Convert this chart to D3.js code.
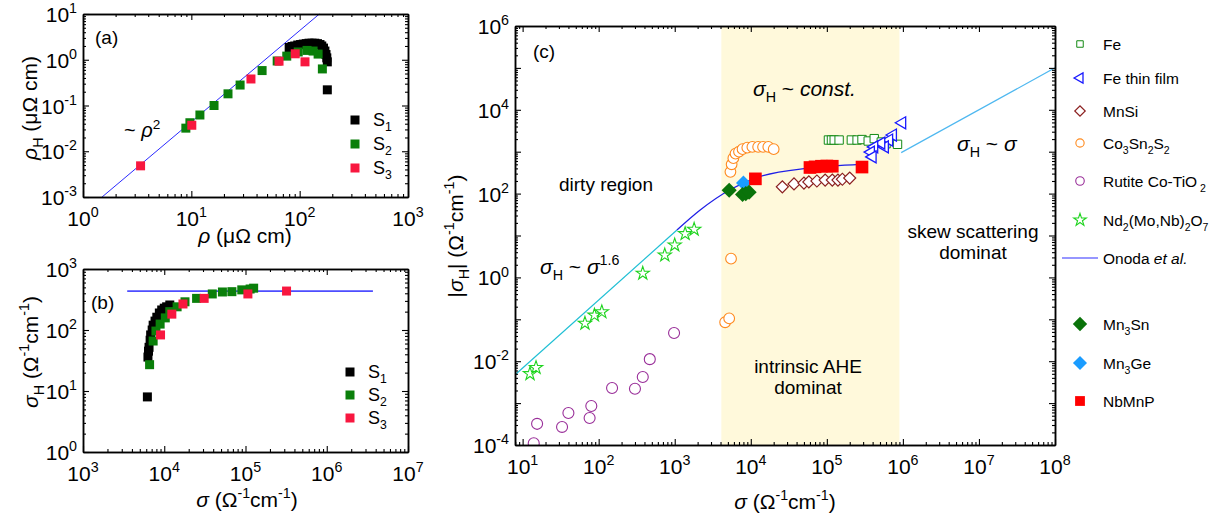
<!DOCTYPE html>
<html>
<head>
<meta charset="utf-8">
<script src="https://cdnjs.cloudflare.com/ajax/libs/d3/7.8.5/d3.min.js"></script>
<style>
  body { margin: 0; background: #fff; }
  svg { font-family: "Liberation Sans", Arial, sans-serif; }
</style>
</head>
<body>
<div id="chart"></div>
<script>
// ---------- data ----------
// panel (a): rho (uOhm cm) vs rho_H (uOhm cm)
const aS1 = [[80,1.85],[85,1.95],[90,2.0],[96,2.1],[102,2.15],[108,2.2],[115,2.25],[122,2.3],[130,2.3],[138,2.3],
             [146,2.25],[154,2.15],[160,2.0],[166,1.8],[171,1.55],[175,1.3],[178,1.1],[180,0.9],[180,0.22]];
const aS2 = [[8.9,0.032],[9.7,0.042],[12,0.062],[16.2,0.10],[21.8,0.18],[28.2,0.28],[45,0.58],[62,0.94],
             [76,1.2],[97,1.48],[117,1.6],[133,1.55],[148,1.33],[162,0.63]];
const aS3 = [[3.4,0.0048],[10.1,0.037],[35.5,0.38],[64.5,0.93],[91,1.35],[112,0.9]];
const aFit = [[1.5,0.001],[152,10]];

// panel (b): sigma vs sigma_H
const bS1 = [[6200,8],[6300,36],[6400,45],[6500,52],[6700,68],[6800,83],[7100,100],[7300,120],[7700,140],
             [8100,162],[8700,190],[9300,213],[10000,228],[10700,240],[11700,257]];
const bS2 = [[6600,27],[7300,66],[7900,96],[8900,125],[10300,158],[11700,200],[14400,240],[18000,290],
             [25000,330],[39000,390],[52000,420],[68000,425],[90000,455],[114000,470],[126000,485]];
const bS3 = [[9000,83],[12400,182],[17000,267],[31000,330],[107000,390],[320000,435]];
const bConst = [[3500,435],[3.7e6,435]];

// panel (c): sigma vs |sigma_H|
const fe = [[1.05e5,1900],[1.15e5,1900],[1.25e5,1900],[1.45e5,1900],[2.1e5,1900],[2.5e5,1900],[2.9e5,1950],
            [3.5e5,1800],[4.2e5,2050],[5.2e5,1700],[6.0e5,1550],[8.5e5,1500]];
const feFilm = [[9.8e5,4900],[7.4e5,2500],[6.6e5,1900],[5.8e5,1300],[5.2e5,1600],[4.2e5,1300],[3.8e5,980],[4.0e5,750]];
const mnsi = [[2.6e4,145],[3.7e4,170],[5.0e4,178],[5.8e4,190],[7.4e4,200],[9.5e4,210],[1.18e5,210],[1.4e5,210],
              [1.6e5,220],[2.0e5,235]];
const coSnS = [[4600,0.085],[5200,0.105],[5500,2.8],[5400,330],[5600,500],[5900,700],[6300,900],[7000,1000],
               [7800,1150],[9000,1250],[10500,1300],[12500,1300],[14500,1300],[17000,1300],[20000,1150]];
const rutile = [[14,1.1e-4],[15.5,3.2e-4],[33,2.7e-4],[40,5.8e-4],[76,4.4e-4],[80,8.5e-4],[150,2.3e-3],
                [300,2.2e-3],[380,4.2e-3],[470,0.0112],[980,0.047]];
const ndMoNb = [[12.5,0.0050],[15,0.0070],[66,0.080],[88,0.125],[110,0.150],[380,1.25],[740,3.4],[1000,5.9],
                [1370,11],[1800,14]];
const mn3sn = [[5200,120],[7800,95],[8600,100],[9500,108]];
const mn3ge = [[8000,180]];
const nbmnp = [[11500,225],[60000,420],[70000,435],[85000,450],[100000,455],[118000,450],[290000,430]];
const onoda = [[1070,13.5],[2140,40],[5400,125],[11500,235],[60000,410],[280000,500]];
const lowScaling = [[7.9,0.0047],[1070,13.5]];
const highScaling = [[9.5e5,950],[1e8,1e5]];
const intrinsicBand = [4.1e3, 9.0e5];

// tick values
const aXTicks = [1, 10, 100, 1000];
const aYTicks = [1e-3, 1e-2, 1e-1, 1, 10];
const bXTicks = [1e3, 1e4, 1e5, 1e6, 1e7];
const bYTicks = [1, 10, 100, 1000];
const cXTicks = [10, 1e2, 1e3, 1e4, 1e5, 1e6, 1e7, 1e8];
const cYMajor = [1e-4, 1e-3, 1e-2, 1e-1, 1, 10, 1e2, 1e3, 1e4, 1e5, 1e6];
const cYTicks = [1e-4, 1e-2, 1, 1e2, 1e4, 1e6];

// ---------- drawing ----------
const svg = d3.select("#chart").append("svg")
    .attr("width", 1229)
    .attr("height", 520);

const xa = d3.scaleLog().domain([1, 1000]).range([83, 408]);
const ya = d3.scaleLog().domain([1e-3, 10]).range([197, 14]);
const xb = d3.scaleLog().domain([1e3, 1e7]).range([83, 408]);
const yb = d3.scaleLog().domain([1, 1e3]).range([452, 269]);
const xc = d3.scaleLog().domain([7.94, 1e8]).range([515, 1055]);
const yc = d3.scaleLog().domain([1e-4, 1e6]).range([445, 26]);

const TICK_FS = 21;
const TITLE_FS = 21;

// text with sub/superscripts and italics
function rich(sel, parts, fs) {
    let shift = 0;
    parts.forEach(function (p) {
        const t = typeof p === "string" ? p : p[0];
        const k = typeof p === "string" ? "" : p[1];
        const target = k === "sub" ? fs * 0.3 : k === "sup" ? -fs * 0.42 : 0;
        const ts = sel.append("tspan").text(t);
        if (target !== shift) ts.attr("dy", target - shift);
        shift = target;
        if (k === "sub" || k === "sup") ts.attr("font-size", fs * 0.68);
        if (k === "it") ts.attr("font-style", "italic");
    });
    return sel;
}

function minorTicks(scale) {
    const [a, b] = scale.domain();
    const out = [];
    for (let e = Math.floor(Math.log10(a)); e <= Math.ceil(Math.log10(b)); e++) {
        for (let m = 2; m < 10; m++) {
            const v = m * Math.pow(10, e);
            if (v > a && v < b) out.push(v);
        }
    }
    return out;
}

function frame(g, x, y, xMajor, yMajor, xLabels, yLabels) {
    const [x0, x1] = x.range();
    const [y0, y1] = y.range();
    const sides = [
        [d3.axisBottom, x, `translate(0,${y0})`, xMajor],
        [d3.axisTop, x, `translate(0,${y1})`, xMajor],
        [d3.axisLeft, y, `translate(${x0},0)`, yMajor],
        [d3.axisRight, y, `translate(${x1},0)`, yMajor]
    ];
    sides.forEach(function (s) {
        const [fn, sc, tr, maj] = s;
        g.append("g").attr("transform", tr)
            .call(fn(sc).tickValues(minorTicks(sc)).tickSize(-3).tickSizeOuter(0).tickFormat(""));
        g.append("g").attr("transform", tr)
            .call(fn(sc).tickValues(maj).tickSize(-6).tickSizeOuter(0).tickFormat(""));
    });
    g.selectAll(".domain").attr("stroke", "#000").attr("stroke-width", 1.5);
    g.selectAll(".tick line").attr("stroke", "#000").attr("stroke-width", 1.1);

    xLabels.forEach(function (v) {
        rich(g.append("text").attr("x", x(v)).attr("y", y0 + 29)
            .attr("text-anchor", "middle").attr("font-size", TICK_FS),
            ["10", [String(Math.round(Math.log10(v))), "sup"]], TICK_FS);
    });
    yLabels.forEach(function (v) {
        rich(g.append("text").attr("x", x0 - 6).attr("y", y(v) + 8)
            .attr("text-anchor", "end").attr("font-size", TICK_FS),
            ["10", [String(Math.round(Math.log10(v))), "sup"]], TICK_FS);
    });
}

function markers(g, data, x, y, st) {
    g.append("g").selectAll("path")
        .data(data)
        .enter()
        .append("path")
        .attr("d", d3.symbol().type(st.type).size(st.size))
        .attr("transform", d => `translate(${x(d[0])},${y(d[1])}) rotate(${st.rot || 0})`)
        .attr("fill", st.fill)
        .attr("stroke", st.stroke || "none")
        .attr("stroke-width", st.sw || 1);
}

function line(g, data, x, y, color, w, curve) {
    g.append("path")
        .datum(data)
        .attr("fill", "none")
        .attr("stroke", color)
        .attr("stroke-width", w)
        .attr("d", d3.line().x(d => x(d[0])).y(d => y(d[1])).curve(curve || d3.curveLinear));
}

const sq = (c) => ({ type: d3.symbolSquare, size: 81, fill: c });
const sStyles = [sq("#000"), sq("#0a7f0a"), sq("#f8173f")];
const sNames = ["1", "2", "3"];

function sLegend(g, x0, ys) {
    ys.forEach(function (yy, i) {
        g.append("path")
            .attr("d", d3.symbol().type(d3.symbolSquare).size(81))
            .attr("transform", `translate(${x0},${yy})`)
            .attr("fill", sStyles[i].fill);
        rich(g.append("text").attr("x", x0 + 18).attr("y", yy + 6).attr("font-size", 18),
            ["S", [sNames[i], "sub"]], 18);
    });
}

// ----- panel (a) -----
const ga = svg.append("g");
line(ga, aFit, xa, ya, "#2a2aff", 1);
markers(ga, aS1, xa, ya, sStyles[0]);
markers(ga, aS2, xa, ya, sStyles[1]);
markers(ga, aS3, xa, ya, sStyles[2]);
frame(ga, xa, ya, aXTicks, aYTicks, aXTicks, aYTicks);
ga.append("text").attr("x", 95).attr("y", 44).attr("font-size", 19).text("(a)");
rich(ga.append("text").attr("x", 124).attr("y", 137).attr("font-size", 20),
    ["~ ", ["ρ", "it"], ["2", "sup"]], 20);
sLegend(ga, 355, [120, 144, 168]);
rich(ga.append("text").attr("x", 245).attr("y", 243).attr("text-anchor", "middle").attr("font-size", TITLE_FS),
    [["ρ", "it"], " (μΩ cm)"], TITLE_FS);
rich(ga.append("text").attr("transform", "translate(37,108) rotate(-90)")
    .attr("text-anchor", "middle").attr("font-size", TITLE_FS),
    [["ρ", "it"], ["H", "sub"], " (μΩ cm)"], TITLE_FS);

// ----- panel (b) -----
const gb = svg.append("g");
line(gb, bConst, xb, yb, "#4d4dff", 1.8);
markers(gb, bS1, xb, yb, sStyles[0]);
markers(gb, bS2, xb, yb, sStyles[1]);
markers(gb, bS3, xb, yb, sStyles[2]);
frame(gb, xb, yb, bXTicks, bYTicks, bXTicks, bYTicks);
gb.append("text").attr("x", 91).attr("y", 309).attr("font-size", 19).text("(b)");
sLegend(gb, 350, [372, 395, 418]);
rich(gb.append("text").attr("x", 247).attr("y", 507).attr("text-anchor", "middle").attr("font-size", TITLE_FS),
    [["σ", "it"], " (Ω", ["-1", "sup"], "cm", ["-1", "sup"], ")"], TITLE_FS);
rich(gb.append("text").attr("transform", "translate(38,352) rotate(-90)")
    .attr("text-anchor", "middle").attr("font-size", TITLE_FS),
    [["σ", "it"], ["H", "sub"], " (Ω", ["-1", "sup"], "cm", ["-1", "sup"], ")"], TITLE_FS);

// ----- panel (c) -----
const gc = svg.append("g");
gc.append("clipPath").attr("id", "clipc").append("rect")
    .attr("x", 515).attr("y", 26).attr("width", 540).attr("height", 419);
const plotc = gc.append("g").attr("clip-path", "url(#clipc)");

plotc.append("rect")
    .attr("x", xc(intrinsicBand[0]))
    .attr("y", 26)
    .attr("width", xc(intrinsicBand[1]) - xc(intrinsicBand[0]))
    .attr("height", 419)
    .attr("fill", "#fff9db");

line(plotc, lowScaling, xc, yc, "#1fbfd4", 1.2);
line(plotc, highScaling, xc, yc, "#4fb8f0", 1.2);
line(plotc, onoda, xc, yc, "#1f1fe6", 1.3, d3.curveMonotoneX);

const cStyles = {
    fe: { type: d3.symbolSquare, size: 70, fill: "#fff", stroke: "#138a13" },
    feFilm: { type: d3.symbolTriangle, size: 62, rot: -90, fill: "#fff", stroke: "#1a1aff", sw: 1.3 },
    mnsi: { type: d3.symbolSquare, size: 72, rot: 45, fill: "#fff", stroke: "#8b2020", sw: 1.2 },
    coSnS: { type: d3.symbolCircle, size: 90, fill: "#fff", stroke: "#ff8a1e", sw: 1.1 },
    rutile: { type: d3.symbolCircle, size: 95, fill: "none", stroke: "#992e99", sw: 1.1 },
    nd: { type: d3.symbolStar, size: 55, fill: "none", stroke: "#1fd41f", sw: 1.1 },
    mn3sn: { type: d3.symbolSquare, size: 115, rot: 45, fill: "#0a730a" },
    mn3ge: { type: d3.symbolSquare, size: 110, rot: 45, fill: "#1a9cff" },
    nbmnp: { type: d3.symbolSquare, size: 160, fill: "#ff0000" }
};

markers(plotc, rutile, xc, yc, cStyles.rutile);
markers(plotc, ndMoNb, xc, yc, cStyles.nd);
markers(plotc, coSnS, xc, yc, cStyles.coSnS);
markers(plotc, fe, xc, yc, cStyles.fe);
markers(plotc, feFilm, xc, yc, cStyles.feFilm);
markers(plotc, mnsi, xc, yc, cStyles.mnsi);
markers(plotc, mn3ge, xc, yc, cStyles.mn3ge);
markers(plotc, mn3sn, xc, yc, cStyles.mn3sn);
markers(plotc, nbmnp, xc, yc, cStyles.nbmnp);

frame(gc, xc, yc, cXTicks, cYMajor, cXTicks, cYTicks);

// annotations
gc.append("text").attr("x", 533).attr("y", 58).attr("font-size", 19).text("(c)");
gc.append("text").attr("x", 559).attr("y", 191).attr("font-size", 19).text("dirty region");
rich(gc.append("text").attr("x", 540).attr("y", 274).attr("font-size", 21),
    [["σ", "it"], ["H", "sub"], " ~ ", ["σ", "it"], ["1.6", "sup"]], 21);
rich(gc.append("text").attr("x", 753).attr("y", 96).attr("font-size", 21),
    [["σ", "it"], ["H", "sub"], " ~ ", ["const.", "it"]], 21);
rich(gc.append("text").attr("x", 957).attr("y", 151).attr("font-size", 21),
    [["σ", "it"], ["H", "sub"], " ~ ", ["σ", "it"]], 21);
gc.append("text").attr("x", 973).attr("y", 238).attr("text-anchor", "middle").attr("font-size", 19).text("skew scattering");
gc.append("text").attr("x", 973).attr("y", 259).attr("text-anchor", "middle").attr("font-size", 19).text("dominat");
gc.append("text").attr("x", 808).attr("y", 373).attr("text-anchor", "middle").attr("font-size", 19).text("intrinsic AHE");
gc.append("text").attr("x", 808).attr("y", 394).attr("text-anchor", "middle").attr("font-size", 19).text("dominat");

rich(gc.append("text").attr("x", 785).attr("y", 509).attr("text-anchor", "middle").attr("font-size", TITLE_FS),
    [["σ", "it"], " (Ω", ["-1", "sup"], "cm", ["-1", "sup"], ")"], TITLE_FS);
rich(gc.append("text").attr("transform", "translate(463,236) rotate(-90)")
    .attr("text-anchor", "middle").attr("font-size", TITLE_FS),
    ["|", ["σ", "it"], ["H", "sub"], "| (Ω", ["-1", "sup"], "cm", ["-1", "sup"], ")"], TITLE_FS);

// legend of panel (c)
const legendNames = [
    ["Fe"],
    ["Fe thin film"],
    ["MnSi"],
    ["Co", ["3", "sub"], "Sn", ["2", "sub"], "S", ["2", "sub"]],
    ["Rutite Co-TiO", [" 2", "sub"]],
    ["Nd", ["2", "sub"], "(Mo,Nb)", ["2", "sub"], "O", ["7", "sub"]],
    ["Onoda ", ["et al.", "it"]],
    ["Mn", ["3", "sub"], "Sn"],
    ["Mn", ["3", "sub"], "Ge"],
    ["NbMnP"]
];
const legendKeys = ["fe", "feFilm", "mnsi", "coSnS", "rutile", "nd", "onoda", "mn3sn", "mn3ge", "nbmnp"];
const legendY = [44, 78, 111, 143, 181, 220, 258, 324, 363, 401];
const legendScale = { fe: 0.6, feFilm: 0.75, mnsi: 0.75, coSnS: 0.6, rutile: 0.6, nd: 0.9, mn3sn: 0.9, mn3ge: 0.9, nbmnp: 0.6 };

const lg = svg.append("g");
legendKeys.forEach(function (k, i) {
    const yy = legendY[i];
    if (k === "onoda") {
        lg.append("line").attr("x1", 1062).attr("x2", 1098).attr("y1", yy).attr("y2", yy)
            .attr("stroke", "#7373ff").attr("stroke-width", 1.5);
    } else {
        const st = cStyles[k];
        lg.append("path")
            .attr("d", d3.symbol().type(st.type).size(st.size * legendScale[k]))
            .attr("transform", `translate(1080,${yy}) rotate(${st.rot || 0})`)
            .attr("fill", st.fill)
            .attr("stroke", st.stroke || "none")
            .attr("stroke-width", st.sw || 1);
    }
    rich(lg.append("text").attr("x", 1103).attr("y", yy + 6).attr("font-size", 15.5), legendNames[i], 15.5);
});
</script>
</body>
</html>
